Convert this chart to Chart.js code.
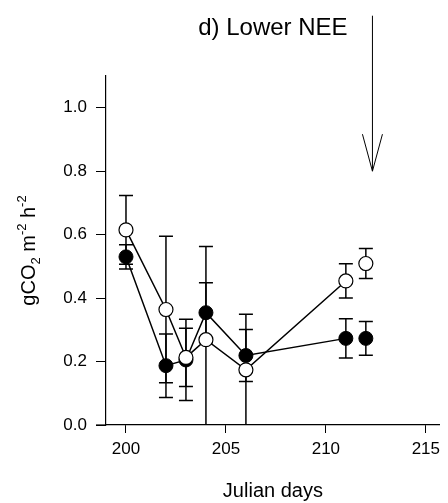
<!DOCTYPE html>
<html>
<head>
<meta charset="utf-8">
<title>d) Lower NEE</title>
<script src="https://cdn.jsdelivr.net/npm/chart.js@4.4.1/dist/chart.umd.min.js"></script>
<style>
  html, body { margin: 0; padding: 0; background: #ffffff; }
  #wrap { position: relative; width: 448px; height: 503px; }
</style>
</head>
<body>
<div id="wrap"><canvas id="chart"></canvas></div>
<script>
// Sampling days (Julian day of year)
const days = [200, 202, 203, 204, 206, 211, 212];

// Closed symbols: mean flux and its error
const closedMean = [0.53, 0.187, 0.205, 0.354, 0.219, 0.273, 0.273];
const closedErr  = [0.038, 0.10, 0.128, 0.094, 0.082, 0.062, 0.053];

// Open symbols: mean flux and its error
const openMean = [0.615, 0.364, 0.213, 0.269, 0.174, 0.454, 0.509];
const openErr  = [0.108, 0.231, 0.092, 0.294, 0.175, 0.054, 0.047];

// Axis ticks
const xTicks = [200, 205, 210, 215];
const yTicks = [0.0, 0.2, 0.4, 0.6, 0.8, 1.0];

// Event marker arrow (day, start value, tip value)
const arrowDay = 212.33;
const arrowFrom = 1.29;
const arrowTo = 0.80;

const FONT = "Arial, 'Liberation Sans', sans-serif";

function toPoints(means) {
  return days.map((d, i) => ({ x: d, y: means[i] }));
}

// The last sample is not joined to the series line
const lastIndex = days.length - 1;
const segmentStyle = {
  borderColor: ctx => ctx.p1DataIndex === lastIndex ? 'rgba(0,0,0,0)' : '#000'
};

function drawErrorBars(ctx, xs, ys, means, errs) {
  for (let i = 0; i < days.length; i++) {
    const px = xs.getPixelForValue(days[i]);
    const top = ys.getPixelForValue(means[i] + errs[i]);
    const bot = ys.getPixelForValue(means[i] - errs[i]);
    ctx.beginPath();
    ctx.moveTo(px, top); ctx.lineTo(px, bot);
    ctx.moveTo(px - 7, top); ctx.lineTo(px + 7, top);
    ctx.moveTo(px - 7, bot); ctx.lineTo(px + 7, bot);
    ctx.stroke();
  }
}

const decorations = {
  id: 'decorations',
  beforeDatasetsDraw(chart) {
    const { ctx, chartArea, scales } = chart;
    ctx.save();
    ctx.beginPath();
    ctx.rect(chartArea.left, chartArea.top, chartArea.right - chartArea.left, chartArea.bottom - chartArea.top);
    ctx.clip();
    ctx.strokeStyle = '#000';
    ctx.lineWidth = 1.5;
    drawErrorBars(ctx, scales.x, scales.y, closedMean, closedErr);
    drawErrorBars(ctx, scales.x, scales.y, openMean, openErr);
    ctx.restore();
  },
  afterDraw(chart) {
    const { ctx, chartArea, scales } = chart;
    ctx.save();
    ctx.strokeStyle = '#000';
    ctx.fillStyle = '#000';

    // x axis line runs a little past the y axis
    ctx.lineWidth = 1.2;
    ctx.beginPath();
    ctx.moveTo(chartArea.left - 10, chartArea.bottom);
    ctx.lineTo(chartArea.left, chartArea.bottom);
    ctx.stroke();

    // Arrow marking the event
    const ax = scales.x.getPixelForValue(arrowDay);
    const ay0 = scales.y.getPixelForValue(arrowFrom);
    const ay1 = scales.y.getPixelForValue(arrowTo);
    ctx.lineWidth = 1;
    ctx.beginPath();
    ctx.moveTo(ax, ay0); ctx.lineTo(ax, ay1);
    ctx.moveTo(ax - 10, ay1 - 37); ctx.lineTo(ax, ay1); ctx.lineTo(ax + 10, ay1 - 37);
    ctx.stroke();

    // Panel title
    ctx.font = '24px ' + FONT;
    ctx.textAlign = 'center';
    ctx.textBaseline = 'alphabetic';
    ctx.fillText('d) Lower NEE', (chartArea.left + chartArea.right) / 2, 35);

    // y axis title with sub- and superscripts
    const parts = [
      { t: 'gCO', size: 20, dy: 0 },
      { t: '2', size: 13, dy: 5 },
      { t: ' m', size: 20, dy: 0 },
      { t: '-2', size: 13, dy: -9 },
      { t: ' h', size: 20, dy: 0 },
      { t: '-2', size: 13, dy: -9 }
    ];
    let total = 0;
    parts.forEach(p => { ctx.font = p.size + 'px ' + FONT; p.w = ctx.measureText(p.t).width; total += p.w; });
    ctx.translate(35, (chartArea.top + chartArea.bottom) / 2);
    ctx.rotate(-Math.PI / 2);
    ctx.textAlign = 'left';
    let cx = -total / 2;
    parts.forEach(p => {
      ctx.font = p.size + 'px ' + FONT;
      ctx.fillText(p.t, cx, p.dy);
      cx += p.w;
    });
    ctx.restore();
  }
};

new Chart(document.getElementById('chart'), {
  type: 'scatter',
  data: {
    datasets: [
      {
        label: 'closed',
        data: toPoints(closedMean),
        showLine: true,
        borderColor: '#000',
        borderWidth: 1.5,
        segment: segmentStyle,
        pointRadius: 7,
        pointHoverRadius: 7,
        pointBackgroundColor: '#000',
        pointBorderColor: '#000',
        pointBorderWidth: 1,
        order: 2
      },
      {
        label: 'open',
        data: toPoints(openMean),
        showLine: true,
        borderColor: '#000',
        borderWidth: 1.5,
        segment: segmentStyle,
        pointRadius: 7,
        pointHoverRadius: 7,
        pointBackgroundColor: '#fff',
        pointBorderColor: '#000',
        pointBorderWidth: 1.2,
        order: 1
      }
    ]
  },
  options: {
    responsive: true,
    maintainAspectRatio: false,
    animation: false,
    events: [],
    layout: { padding: { top: 76, left: 0, right: 0, bottom: 0 } },
    plugins: { legend: { display: false }, tooltip: { enabled: false }, title: { display: false } },
    scales: {
      x: {
        type: 'linear',
        min: 199,
        max: 215.7,
        afterBuildTicks: s => { s.ticks = xTicks.map(v => ({ value: v })); },
        afterFit: s => { s.height = 78; s.paddingLeft = 0; s.paddingRight = 0; },
        border: { display: true, color: '#000', width: 1.2 },
        grid: { drawOnChartArea: false, drawTicks: true, tickLength: 8, color: '#000', lineWidth: 1 },
        ticks: { color: '#000', font: { family: FONT, size: 17 }, padding: 6, maxRotation: 0, autoSkip: false },
        title: { display: true, text: 'Julian days', color: '#000', font: { family: FONT, size: 20 }, padding: { top: 0, bottom: 0 } }
      },
      y: {
        type: 'linear',
        min: 0,
        max: 1.1,
        afterBuildTicks: s => { s.ticks = yTicks.map(v => ({ value: v })); },
        afterFit: s => { s.width = 106; s.paddingTop = 0; s.paddingBottom = 0; },
        border: { display: true, color: '#000', width: 1.2 },
        grid: { drawOnChartArea: false, drawTicks: true, tickLength: 10, color: '#000', lineWidth: 1 },
        ticks: { color: '#000', font: { family: FONT, size: 17 }, padding: 9, callback: v => Number(v).toFixed(1) }
      }
    }
  },
  plugins: [decorations]
});
</script>
</body>
</html>
